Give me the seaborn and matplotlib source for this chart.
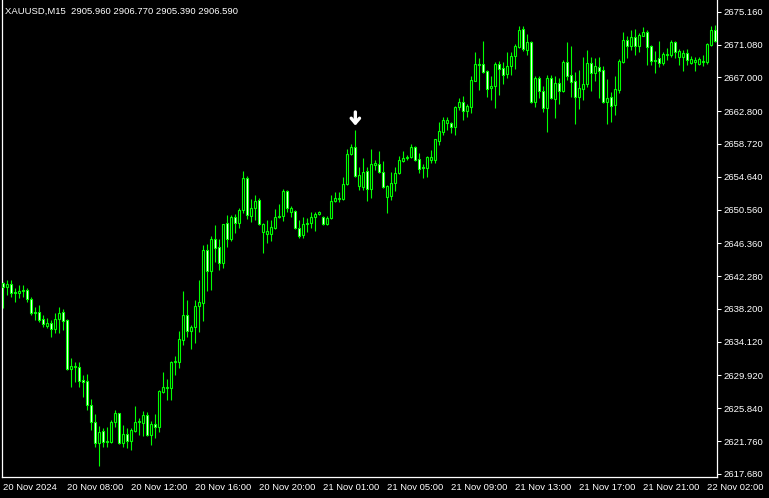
import matplotlib
matplotlib.use("Agg")
import matplotlib.pyplot as plt
import seaborn as sns
import numpy as np

# XAUUSD M15 candles
header_text = "XAUUSD,M15  2905.960 2906.770 2905.390 2906.590"

opens = [
    2641.4, 2640.9, 2641.3, 2640.3, 2640.2, 2640.4, 2640.6, 2639.4, 2637.8, 2637.8,
    2636.9, 2636.1, 2636.4, 2635.7, 2636.9, 2637.8, 2636.8, 2630.7, 2631.0, 2631.0,
    2629.4, 2629.2, 2626.2, 2624.1, 2621.5, 2623.0, 2621.8, 2621.6, 2624.1, 2625.3,
    2621.5, 2622.6, 2621.8, 2623.0, 2624.1, 2624.0, 2625.0, 2622.5, 2623.9, 2623.5,
    2627.9, 2628.4, 2628.4, 2631.6, 2631.6, 2634.3, 2637.4, 2635.5, 2635.9, 2638.6,
    2638.9, 2645.5, 2642.9, 2646.9, 2645.9, 2643.9, 2648.9, 2646.9, 2649.6, 2648.9,
    2650.5, 2654.5, 2649.8, 2650.8, 2651.8, 2647.8, 2647.5, 2647.5, 2648.3, 2649.6,
    2649.8, 2652.9, 2650.3, 2650.4, 2648.3, 2647.4, 2648.8, 2648.9, 2649.6, 2650.0,
    2649.6, 2648.8, 2649.5, 2651.6, 2651.9, 2651.9, 2653.7, 2657.5, 2658.3, 2653.5,
    2653.4, 2655.4, 2653.1, 2656.1, 2656.2, 2655.2, 2652.1, 2652.2, 2653.9, 2655.1,
    2656.6, 2657.0, 2657.1, 2658.3, 2656.9, 2655.9, 2655.7, 2656.7, 2656.7, 2659.1,
    2660.2, 2661.3, 2661.3, 2660.8, 2663.3, 2663.9, 2662.8, 2663.3, 2666.6, 2668.7,
    2668.7, 2667.8, 2665.7, 2665.9, 2668.7, 2668.2, 2667.4, 2668.4, 2669.7, 2670.8,
    2673.0, 2670.4, 2671.4, 2663.9, 2666.9, 2665.3, 2663.2, 2666.9, 2664.3, 2666.3,
    2665.3, 2668.9, 2667.3, 2666.6, 2664.6, 2665.6, 2666.2, 2668.8, 2667.5, 2668.3,
    2667.9, 2663.9, 2664.6, 2663.6, 2665.4, 2668.9, 2671.7, 2670.9, 2672.0, 2670.9,
    2672.2, 2672.6, 2670.9, 2669.2, 2669.4, 2668.8, 2669.8, 2669.8, 2671.4, 2669.5,
    2669.5, 2670.0, 2668.8, 2668.9, 2668.7, 2669.0, 2668.9, 2671.0, 2672.9,
]
highs = [
    2641.6, 2641.8, 2641.8, 2640.8, 2641.2, 2641.2, 2640.8, 2639.7, 2638.4, 2638.7,
    2637.4, 2637.1, 2636.8, 2637.7, 2638.4, 2638.2, 2636.9, 2632.1, 2631.6, 2631.6,
    2630.0, 2630.1, 2627.0, 2625.1, 2623.6, 2623.4, 2623.5, 2624.4, 2625.6, 2625.3,
    2623.8, 2623.4, 2623.4, 2626.1, 2624.6, 2625.5, 2625.4, 2624.3, 2625.1, 2628.1,
    2630.4, 2629.5, 2631.7, 2632.3, 2635.5, 2640.4, 2639.3, 2636.2, 2639.3, 2641.8,
    2646.2, 2646.3, 2647.3, 2648.6, 2646.9, 2648.8, 2649.9, 2649.9, 2650.0, 2650.8,
    2655.4, 2654.7, 2651.9, 2652.4, 2652.0, 2648.9, 2649.3, 2649.3, 2650.6, 2651.3,
    2653.1, 2653.0, 2651.0, 2650.5, 2649.3, 2649.6, 2649.5, 2650.3, 2650.3, 2650.4,
    2649.8, 2649.8, 2652.4, 2652.7, 2652.7, 2654.6, 2658.1, 2658.7, 2660.5, 2655.9,
    2657.0, 2655.9, 2658.1, 2656.7, 2657.8, 2656.6, 2653.6, 2655.2, 2655.9, 2657.2,
    2657.8, 2657.3, 2658.7, 2658.5, 2657.6, 2656.2, 2657.2, 2658.0, 2659.4, 2661.5,
    2662.1, 2662.1, 2661.5, 2663.4, 2664.4, 2664.7, 2663.7, 2667.2, 2670.2, 2669.4,
    2671.5, 2667.9, 2667.2, 2668.9, 2669.0, 2668.9, 2670.2, 2670.2, 2671.2, 2673.4,
    2673.4, 2672.4, 2671.5, 2667.2, 2667.2, 2665.9, 2667.3, 2667.3, 2667.2, 2666.9,
    2669.2, 2671.4, 2670.9, 2667.7, 2667.9, 2669.5, 2670.4, 2669.5, 2669.4, 2669.5,
    2668.4, 2666.8, 2665.2, 2667.2, 2669.3, 2672.7, 2672.2, 2672.9, 2673.0, 2672.5,
    2673.3, 2672.9, 2671.0, 2670.3, 2671.5, 2670.2, 2670.7, 2671.7, 2671.5, 2670.5,
    2670.4, 2670.5, 2669.7, 2669.5, 2669.5, 2669.8, 2671.3, 2673.4, 2673.5,
]
lows = [
    2638.3, 2639.9, 2639.7, 2639.1, 2639.6, 2639.7, 2639.1, 2637.4, 2636.8, 2636.6,
    2635.9, 2635.8, 2634.7, 2635.2, 2635.2, 2635.6, 2630.6, 2628.5, 2629.1, 2628.5,
    2627.2, 2625.6, 2623.1, 2621.0, 2618.7, 2621.0, 2621.0, 2621.5, 2623.5, 2621.4,
    2621.0, 2620.9, 2620.6, 2622.9, 2622.5, 2622.4, 2622.4, 2621.3, 2622.1, 2622.9,
    2627.7, 2626.9, 2626.9, 2630.0, 2630.9, 2633.7, 2634.7, 2633.2, 2634.0, 2635.3,
    2636.7, 2640.4, 2640.6, 2644.0, 2643.0, 2643.3, 2645.9, 2646.6, 2647.6, 2648.3,
    2650.1, 2649.4, 2649.0, 2649.3, 2648.6, 2645.2, 2646.4, 2646.6, 2648.1, 2649.5,
    2649.1, 2650.3, 2649.6, 2648.1, 2647.0, 2647.0, 2647.8, 2648.3, 2647.9, 2649.9,
    2648.6, 2648.6, 2649.4, 2651.5, 2651.5, 2651.7, 2653.6, 2657.3, 2654.6, 2653.0,
    2653.0, 2651.6, 2652.0, 2655.5, 2655.1, 2653.2, 2650.1, 2651.7, 2652.9, 2655.0,
    2656.5, 2656.7, 2657.0, 2656.6, 2655.1, 2654.5, 2654.6, 2656.4, 2656.4, 2658.6,
    2659.8, 2660.5, 2660.1, 2659.8, 2663.0, 2661.7, 2662.1, 2662.6, 2666.5, 2665.4,
    2667.5, 2664.6, 2664.2, 2663.2, 2664.8, 2666.2, 2666.9, 2667.3, 2668.1, 2670.7,
    2670.3, 2669.8, 2663.8, 2663.3, 2664.4, 2662.7, 2660.2, 2664.3, 2661.9, 2663.7,
    2665.2, 2666.7, 2664.6, 2661.2, 2663.1, 2664.2, 2665.8, 2665.3, 2666.6, 2664.4,
    2663.8, 2661.2, 2661.5, 2662.3, 2665.1, 2668.8, 2669.4, 2670.4, 2669.8, 2670.2,
    2672.1, 2668.5, 2668.5, 2667.5, 2668.3, 2668.5, 2669.2, 2669.5, 2669.4, 2668.5,
    2667.8, 2668.5, 2668.7, 2667.8, 2668.5, 2668.4, 2668.7, 2670.9, 2671.4,
]
closes = [
    2640.9, 2641.3, 2640.2, 2640.2, 2640.4, 2640.6, 2639.4, 2637.7, 2637.7, 2636.8,
    2636.3, 2636.4, 2635.7, 2636.9, 2637.7, 2636.7, 2630.7, 2631.1, 2631.1, 2629.2,
    2629.1, 2626.2, 2624.1, 2621.5, 2622.9, 2621.6, 2621.6, 2624.1, 2625.3, 2621.5,
    2622.6, 2621.8, 2623.1, 2624.1, 2624.3, 2625.0, 2622.5, 2623.9, 2623.5, 2628.0,
    2628.5, 2628.5, 2631.6, 2631.7, 2634.5, 2637.4, 2635.5, 2635.9, 2638.6, 2639.1,
    2645.5, 2642.9, 2646.9, 2645.8, 2643.9, 2648.8, 2646.9, 2649.6, 2648.9, 2650.5,
    2654.5, 2649.9, 2650.8, 2651.6, 2648.8, 2648.8, 2647.9, 2648.4, 2649.6, 2649.8,
    2652.9, 2650.8, 2650.8, 2648.3, 2647.3, 2648.8, 2648.9, 2649.6, 2650.0, 2650.3,
    2648.8, 2649.5, 2651.6, 2652.0, 2652.0, 2653.7, 2657.5, 2658.3, 2654.7, 2654.9,
    2655.2, 2653.1, 2656.2, 2656.4, 2655.2, 2653.4, 2653.5, 2653.9, 2655.1, 2656.7,
    2657.0, 2657.1, 2658.3, 2656.7, 2655.6, 2655.7, 2657.1, 2657.1, 2659.3, 2660.3,
    2661.7, 2661.7, 2660.8, 2663.3, 2663.9, 2662.8, 2663.4, 2666.7, 2668.7, 2668.6,
    2667.7, 2665.6, 2665.9, 2668.7, 2668.0, 2667.3, 2668.4, 2669.7, 2670.9, 2672.9,
    2670.5, 2671.4, 2663.9, 2666.9, 2665.3, 2663.2, 2666.9, 2664.4, 2666.3, 2665.3,
    2668.9, 2667.2, 2666.4, 2664.6, 2665.7, 2666.2, 2668.8, 2667.5, 2668.4, 2667.8,
    2663.9, 2664.4, 2663.4, 2665.6, 2669.0, 2671.7, 2670.9, 2672.0, 2670.9, 2672.3,
    2672.6, 2670.8, 2669.0, 2669.0, 2668.8, 2669.9, 2669.9, 2671.4, 2670.2, 2670.3,
    2670.0, 2669.2, 2669.3, 2669.2, 2669.3, 2668.9, 2671.2, 2672.9, 2671.5,
]

price_ticks = [2617.680, 2621.760, 2625.840, 2629.920, 2634.120, 2638.200, 2642.280,
               2646.360, 2650.560, 2654.640, 2658.720, 2662.800, 2667.000, 2671.080, 2675.160]
time_labels = ["20 Nov 2024", "20 Nov 08:00", "20 Nov 12:00", "20 Nov 16:00",
               "20 Nov 20:00", "21 Nov 01:00", "21 Nov 05:00", "21 Nov 09:00",
               "21 Nov 13:00", "21 Nov 17:00", "21 Nov 21:00", "22 Nov 02:00"]
time_label_bars = [0, 16, 32, 48, 64, 80, 96, 112, 128, 144, 160, 176]
signal_bar = 88

sns.set_style("dark", {"axes.facecolor": "black", "figure.facecolor": "black",
                       "axes.edgecolor": "white", "axes.grid": False})
plt.rcParams["font.family"] = ["Liberation Sans", "DejaVu Sans"]

green = "#00ff00"
fsize = 6.8

fig = plt.figure(figsize=(7.69, 4.98), dpi=100)
ax = fig.add_axes([2 / 769, 21 / 498, 715 / 769, 477 / 498])

o = np.array(opens)
h = np.array(highs)
l = np.array(lows)
c = np.array(closes)
x = np.arange(len(o))

ax.vlines(x, l, h, color=green, lw=0.8, zorder=2)
fills = np.where(c < o, "white", "black")
ax.bar(x, np.abs(c - o), bottom=np.minimum(o, c), width=0.55, color=fills,
       edgecolor=green, linewidth=0.8, zorder=3)

# signal arrow above the spike candle
ax.annotate("", xy=(signal_bar, h[signal_bar] + 0.5), xytext=(signal_bar, h[signal_bar] + 2.2),
            arrowprops=dict(arrowstyle="->,head_length=0.35,head_width=0.3", color="white",
                            lw=2.4, shrinkA=0, shrinkB=0), zorder=4)

ax.set_xlim(-0.325, 178.4)
ax.set_ylim(2617.29, 2676.63)

ax.yaxis.tick_right()
ax.set_yticks(price_ticks, [f"{v:.3f}" for v in price_ticks])
ax.set_xticks(time_label_bars, time_labels, ha="left")
ax.tick_params(axis="both", colors="white", labelcolor="white", labelsize=fsize,
               direction="out", length=3, width=0.75, pad=1.5)
ax.tick_params(axis="y", left=False, right=True)

for side in ["left", "bottom", "right"]:
    ax.spines[side].set_visible(True)
    ax.spines[side].set_color("white")
    ax.spines[side].set_linewidth(0.9)
ax.spines["top"].set_visible(False)

fig.text(5 / 769, 1 - 11 / 498, header_text, color="white", fontsize=fsize,
         ha="left", va="center")

fig.savefig("out.png", dpi=100, facecolor="black")
